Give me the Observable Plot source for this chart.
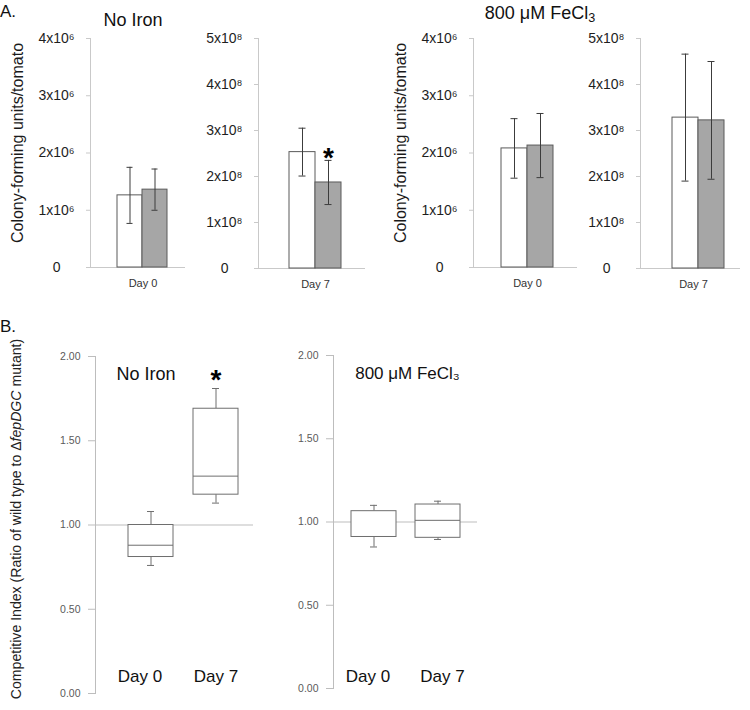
<!DOCTYPE html>
<html><head><meta charset="utf-8">
<script src="https://cdn.jsdelivr.net/npm/d3@7"></script>
<script src="https://cdn.jsdelivr.net/npm/@observablehq/plot@0.6"></script>
<style>
body{margin:0;background:#fff;font-family:"Liberation Sans",Arial,sans-serif;}
#fig{position:relative;width:750px;height:710px;overflow:hidden;background:#fff;}
.plot{position:absolute;}
.lbl{position:absolute;white-space:nowrap;line-height:1;color:#111;}
.ctr{transform:translateX(-50%);}
.rot{transform:translate(-50%,-50%) rotate(-90deg);}
sub{font-size:0.7em;vertical-align:-0.25em;line-height:0;}
</style></head><body><div id="fig"></div>
<script>
// ---- Data ----
const strains = ["Wild type", "ΔfepDGC"];
// Panel A: colony-forming units per tomato (mean, SD)
const noIronDay0Mean = [1.26e6, 1.36e6];
const noIronDay0Sd   = [0.49e6, 0.36e6];
const noIronDay7Mean = [2.53e8, 1.87e8];
const noIronDay7Sd   = [0.52e8, 0.48e8];
const ironDay0Mean   = [2.08e6, 2.13e6];
const ironDay0Sd     = [0.52e6, 0.56e6];
const ironDay7Mean   = [3.28e8, 3.22e8];
const ironDay7Sd     = [1.38e8, 1.28e8];
const cfuTicks6 = [0, 1e6, 2e6, 3e6, 4e6];
const cfuTicks8 = [0, 1e8, 2e8, 3e8, 4e8, 5e8];
// Panel B: competitive index box plots
const days = ["Day 0", "Day 7"];
const noIronMin = [0.76, 1.13];
const noIronQ1  = [0.81, 1.18];
const noIronMed = [0.88, 1.29];
const noIronQ3  = [1.00, 1.69];
const noIronMax = [1.08, 1.81];
const ironMin = [0.85, 0.895];
const ironQ1  = [0.91, 0.905];
const ironMed = [null, 1.01];
const ironQ3  = [1.065, 1.105];
const ironMax = [1.10, 1.125];
const ciTicks = [0, 0.5, 1, 1.5, 2];

const fig = document.getElementById("fig");
const FONT = "Liberation Sans, Arial, sans-serif";
const sup = {"6":"\u2076","8":"\u2078"};

function place(el, left, top) {
  const d = document.createElement("div");
  d.className = "plot";
  d.style.left = left + "px"; d.style.top = top + "px";
  d.appendChild(el); fig.appendChild(d);
}
function label(html, x, y, size, cls, extra) {
  const d = document.createElement("div");
  d.className = "lbl " + (cls || "");
  d.innerHTML = html;
  d.style.left = x + "px"; d.style.top = y + "px"; d.style.fontSize = size + "px";
  if (extra) Object.assign(d.style, extra);
  fig.appendChild(d);
}

function barChart({mean, sd, ticks, exp, day, left, width, marginLeft, marginRight, zeroY, po, align, star, dayDx}) {
  const rows = strains.map((s, i) => ({strain: s, mean: mean[i], lo: mean[i] - sd[i], hi: mean[i] + sd[i]}));
  const height = 290;
  const fmt = v => v === 0 ? "0\u2002\u2002" : `${Math.round(v / 10 ** exp)}x10${sup[exp]}`;
  const marks = [
    Plot.frame({anchor: "left", stroke: "#c9c9c9"}),
    Plot.ruleY([0], {stroke: "#c9c9c9"}),
    Plot.axisY({ticks, tickFormat: fmt, tickSize: 4, tickPadding: 12, stroke: "#c9c9c9", fill: "#1e1e1e", fontSize: 14}),
    Plot.barY(rows, {x: "strain", y: "mean", fill: "strain", stroke: "#5a5a5a", strokeWidth: 1}),
    Plot.ruleX(rows, {x: "strain", y1: "lo", y2: "hi", stroke: "#3c3c3c"}),
    Plot.tickY(rows, {x: "strain", y: "lo", stroke: "#3c3c3c", insetLeft: 9.5, insetRight: 9.5}),
    Plot.tickY(rows, {x: "strain", y: "hi", stroke: "#3c3c3c", insetLeft: 9.5, insetRight: 9.5}),
    Plot.text([day], {x: () => strains[0], y: () => 0, text: d => d, dx: dayDx, dy: 16, fontSize: 11, fill: "#333"})
  ];
  if (star) marks.push(Plot.text([rows[1]], {x: "strain", y: "hi", text: () => "*", dy: -2, fontSize: 28, fontWeight: "bold", fill: "#000"}));
  const p = Plot.plot({
    width, height, marginLeft, marginRight, marginTop: 38, marginBottom: height - zeroY,
    style: {fontFamily: FONT, background: "transparent", overflow: "visible"},
    x: {type: "band", domain: strains, paddingInner: 0, paddingOuter: po, align, axis: null},
    y: {domain: [0, ticks[ticks.length - 1]], axis: null},
    color: {domain: strains, range: ["#ffffff", "#a6a6a6"]},
    marks
  });
  place(p, left, 0);
}

barChart({mean: noIronDay0Mean, sd: noIronDay0Sd, ticks: cfuTicks6, exp: 6, day: "Day 0", left: 0, width: 190, marginLeft: 90, marginRight: 5, zeroY: 267, po: 0.83, align: 0.6, star: false, dayDx: 13});
barChart({mean: noIronDay7Mean, sd: noIronDay7Sd, ticks: cfuTicks8, exp: 8, day: "Day 7", left: 190, width: 180, marginLeft: 68, marginRight: 5, zeroY: 268, po: 1.02, align: 0.57, star: true, dayDx: 13});
barChart({mean: ironDay0Mean, sd: ironDay0Sd, ticks: cfuTicks6, exp: 6, day: "Day 0", left: 380, width: 200, marginLeft: 93, marginRight: 3, zeroY: 267, po: 1.0, align: 0.54, star: false, dayDx: 13});
barChart({mean: ironDay7Mean, sd: ironDay7Sd, ticks: cfuTicks8, exp: 8, day: "Day 7", left: 580, width: 170, marginLeft: 60, marginRight: 10, zeroY: 268, po: 0.92, align: 0.67, star: false, dayDx: 8});

function boxChart({mn, q1, med, q3, mx, title, titleDx, titleSize, star, left, width, marginLeft, marginRight, marginTop, marginBottom, po, pi, align, dayDy, dayDx}) {
  const stats = days.map((d, i) => ({day: d, min: mn[i], q1: q1[i], med: med[i], q3: q3[i], max: mx[i]}));
  const height = 370;
  const c = "#6e6e6e";
  const marks = [
    Plot.frame({anchor: "left", stroke: "#bdbdbd"}),
    Plot.axisY({ticks: ciTicks, tickFormat: d3.format(".2f"), tickSize: 7, tickPadding: 8, stroke: "#bdbdbd", fill: "#5a5a5a", fontSize: 10.5}),
    Plot.ruleY([1], {stroke: "#bdbdbd"}),
    Plot.ruleX(stats, {x: "day", y1: "min", y2: "q1", stroke: c}),
    Plot.ruleX(stats, {x: "day", y1: "q3", y2: "max", stroke: c}),
    Plot.barY(stats, {x: "day", y1: "q1", y2: "q3", fill: "white", stroke: c}),
    Plot.tickY(stats.filter(d => d.med != null), {x: "day", y: "med", stroke: c}),
    Plot.tickY(stats, {x: "day", y: "min", stroke: c, insetLeft: 19, insetRight: 19}),
    Plot.tickY(stats, {x: "day", y: "max", stroke: c, insetLeft: 19, insetRight: 19}),
    Plot.text([title], {x: () => days[0], y: () => 1.86, text: d => d, dx: titleDx, lineAnchor: "bottom", fontSize: titleSize, fill: "#111"}),
    Plot.text([stats[0]], {x: "day", y: () => 0, text: "day", dx: dayDx[0], dy: dayDy, lineAnchor: "bottom", fontSize: 17, fill: "#111"}),
    Plot.text([stats[1]], {x: "day", y: () => 0, text: "day", dx: dayDx[1], dy: dayDy, lineAnchor: "bottom", fontSize: 17, fill: "#111"})
  ];
  if (star) marks.push(Plot.text([stats[1]], {x: "day", y: "max", text: () => "*", dy: -8, fontSize: 28, fontWeight: "bold", fill: "#000"}));
  const p = Plot.plot({
    width, height, marginLeft, marginRight, marginTop, marginBottom,
    style: {fontFamily: FONT, background: "transparent", overflow: "visible"},
    x: {type: "band", domain: days, paddingInner: pi, paddingOuter: po, align, axis: null},
    y: {domain: [0, 2], axis: null},
    marks
  });
  place(p, left, 330);
}

boxChart({mn: noIronMin, q1: noIronQ1, med: noIronMed, q3: noIronQ3, mx: noIronMax, title: "No Iron", titleDx: -5, titleSize: 18, star: true,
  left: 40, width: 240, marginLeft: 55, marginRight: 27, marginTop: 26, marginBottom: 7, po: 0.37, pi: 0.31, align: 0.69, dayDy: -12, dayDx: [-11, 0]});
boxChart({mn: ironMin, q1: ironQ1, med: ironMed, q3: ironQ3, mx: ironMax, title: "800 \u03bcM FeCl\u2083", titleDx: 33.5, titleSize: 17, star: false,
  left: 280, width: 210, marginLeft: 53, marginRight: 13, marginTop: 25, marginBottom: 12, po: 0.26, pi: 0.29, align: 0.52, dayDy: -7, dayDx: [-6, 4.5]});

// ---- Text labels ----
label("A.", 0, 3, 17);
label("B.", 0, 318, 17);
label("No Iron", 133, 11, 18, "ctr");
label("800 \u03bcM FeCl<sub>3</sub>", 540, 4, 18, "ctr");
label("Colony-forming units/tomato", 17.5, 143, 16, "rot", {color: "#1a1a1a"});
label("Colony-forming units/tomato", 401, 143, 16, "rot", {color: "#1a1a1a"});
label("Competitive Index (Ratio of wild type to \u0394<i>fepDGC</i> mutant)", 16, 519, 14.1, "rot", {color: "#222"});
</script></body></html>
